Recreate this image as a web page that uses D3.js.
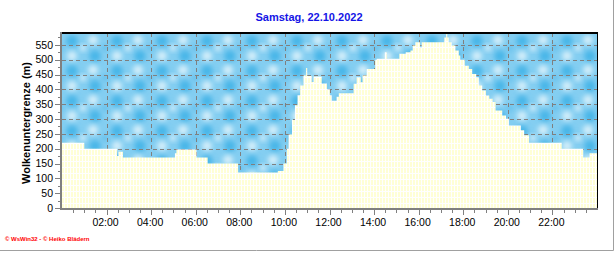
<!DOCTYPE html>
<html>
<head>
<meta charset="utf-8">
<script src="https://cdn.jsdelivr.net/npm/d3@7"></script>
<style>
  body { margin: 0; background: #ffffff; }
  svg { display: block; font-family: "Liberation Sans", Arial, sans-serif; }
</style>
</head>
<body>
<script>
// Wolkenuntergrenze, Samstag 22.10.2022 (times HH:MM, value in m, step after)
var times = ["00:00","01:00","02:28","02:32","02:44","05:04","05:08","06:02","06:32","07:54",
  "09:41","09:56","10:05","10:10","10:19","10:27","10:34","10:41","10:50","10:57",
  "11:00","11:12","11:17","11:39","11:53","12:01","12:06","12:19","12:25","13:05",
  "13:13","13:24","13:29","13:40","14:03","14:07","14:29","14:34","15:08","15:25",
  "15:38","15:44","15:51","16:04","16:08","17:09","17:14","17:17","17:21","17:29",
  "17:39","17:48","17:52","18:04","18:15","18:24","18:35","18:42","18:51","19:01",
  "19:10","19:19","19:27","19:45","19:55","20:03","20:35","20:44","20:57","22:25",
  "23:23","23:40"]
var cloudBase = [220,200,175,190,170,185,197,170,150,120,
  125,150,200,248,297,346,380,413,447,472,
  445,425,443,420,400,380,362,375,387,419,
  441,424,447,469,500,503,525,503,520,525,
  531,548,559,542,559,575,595,575,559,548,
  531,514,500,480,469,452,441,413,396,379,
  368,357,329,312,301,278,262,245,220,200,
  170,185]
var yTicks = [0,50,100,150,200,250,300,350,400,450,500,550]
var xTickLabels = ["02:00","04:00","06:00","08:00","10:00","12:00","14:00","16:00","18:00","20:00","22:00"]

var title = "Samstag, 22.10.2022"
var yTitle = "Wolkenuntergrenze (m)"
var credit = "\u00a9 WsWin32 - \u00a9 Heiko Bl\u00e4dern"

var toHours = function(s)
{
  var p = s.split(":")
  return +p[0] + (+p[1]) / 60
}

var W = 616, H = 253
var pLeft = 62, pRight = 597, pTop = 33, pBottom = 208

var svg = d3.select("body").append("svg")
  .attr("width", W)
  .attr("height", H)

var x = d3.scaleLinear().domain([0, 24]).range([pLeft, pRight])
var y = d3.scaleLinear().domain([0, 590]).range([pBottom, pTop])

var defs = svg.append("defs")

// cloud texture
var blur = defs.append("filter").attr("id", "soft")
  .attr("x", "-50%").attr("y", "-50%").attr("width", "200%").attr("height", "200%")
blur.append("feGaussianBlur").attr("stdDeviation", 2.6)

var sky = defs.append("pattern")
  .attr("id", "sky")
  .attr("patternUnits", "userSpaceOnUse")
  .attr("x", pLeft).attr("y", pTop)
  .attr("width", 45).attr("height", 30)
sky.append("rect").attr("width", 45).attr("height", 30).attr("fill", "#84cef1")
// blob centres, with copies across the tile edges so it wraps
var blobs = []
var baseBlobs = [
  [10, 8, 6, "#4ab6e8"], [33, 23, 6, "#4ab6e8"],
  [31, 7, 5, "#d3eefa"], [10, 23, 5, "#d3eefa"],
  [21, 15, 3, "#e0f3fc"], [43, 15, 3, "#5fbeeb"]
]
baseBlobs.forEach(function(b)
{
  [-45, 0, 45].forEach(function(dx)
  {
    [-30, 0, 30].forEach(function(dy)
    {
      blobs.push([b[0] + dx, b[1] + dy, b[2], b[3]])
    })
  })
})
sky.selectAll("circle")
  .data(blobs)
  .join("circle")
  .attr("cx", d => d[0]).attr("cy", d => d[1]).attr("r", d => d[2])
  .attr("fill", d => d[3])
  .attr("filter", "url(#soft)")

// pale yellow ground
var ground = defs.append("pattern")
  .attr("id", "ground")
  .attr("patternUnits", "userSpaceOnUse")
  .attr("x", pLeft).attr("y", 0)
  .attr("width", 3).attr("height", 6)
ground.append("rect").attr("width", 3).attr("height", 6).attr("fill", "#ffffff")
ground.append("rect").attr("width", 2).attr("height", 5).attr("fill", "#ffffd6")

// sky background
svg.append("rect")
  .attr("x", pLeft).attr("y", pTop)
  .attr("width", pRight - pLeft).attr("height", pBottom - pTop)
  .attr("fill", "url(#sky)")

// grid
var grid = svg.append("g")
  .attr("stroke", "#7f7f7f")
  .attr("stroke-dasharray", "4,3")
  .attr("stroke-width", 1)
grid.selectAll("line.h")
  .data(yTicks.slice(1))
  .join("line")
  .attr("class", "h")
  .attr("x1", pLeft).attr("x2", pRight)
  .attr("y1", d => Math.round(y(d)) + 0.5).attr("y2", d => Math.round(y(d)) + 0.5)
grid.selectAll("line.v")
  .data(xTickLabels)
  .join("line")
  .attr("class", "v")
  .attr("x1", d => Math.round(x(toHours(d))) + 0.5).attr("x2", d => Math.round(x(toHours(d))) + 0.5)
  .attr("y1", pTop).attr("y2", pBottom)

// cloud base area
var data = times.map(function(t, i) { return { t: toHours(t), v: cloudBase[i] } })
data.push({ t: 24, v: cloudBase[cloudBase.length - 1] })

var area = d3.area()
  .x(d => x(d.t))
  .y0(y(0))
  .y1(d => y(d.v))
  .curve(d3.curveStepAfter)

svg.append("path")
  .datum(data)
  .attr("d", area)
  .attr("fill", "url(#ground)")

// frame
svg.append("line")
  .attr("x1", pLeft).attr("x2", pRight + 1)
  .attr("y1", pTop).attr("y2", pTop)
  .attr("stroke", "#000").attr("stroke-width", 2)
svg.append("line")
  .attr("x1", pRight + 0.5).attr("x2", pRight + 0.5)
  .attr("y1", pTop).attr("y2", pBottom + 1)
  .attr("stroke", "#000").attr("stroke-width", 1)

// axes
var axisG = svg.append("g").attr("stroke", "#808080")
axisG.append("line")
  .attr("x1", pLeft - 1).attr("x2", pLeft - 1)
  .attr("y1", pTop - 1).attr("y2", pBottom + 2)
  .attr("stroke-width", 2)
axisG.append("line")
  .attr("x1", pLeft - 2).attr("x2", pRight + 1)
  .attr("y1", pBottom + 1).attr("y2", pBottom + 1)
  .attr("stroke-width", 2)

// y ticks
var yMinor = d3.range(0, 590, 25)
axisG.selectAll("line.ym")
  .data(yMinor)
  .join("line")
  .attr("class", "ym")
  .attr("x1", d => d % 50 == 0 ? pLeft - 7 : pLeft - 4).attr("x2", pLeft - 2)
  .attr("y1", d => Math.round(y(d)) + 0.5).attr("y2", d => Math.round(y(d)) + 0.5)
  .attr("stroke-width", 1)

// x ticks every 30 min
var xMinor = d3.range(0.5, 24, 0.5)
axisG.selectAll("line.xm")
  .data(xMinor)
  .join("line")
  .attr("class", "xm")
  .attr("x1", d => Math.round(x(d)) + 0.5).attr("x2", d => Math.round(x(d)) + 0.5)
  .attr("y1", pBottom + 2).attr("y2", d => d % 2 == 0 ? pBottom + 7 : pBottom + 5)
  .attr("stroke-width", 1)

svg.append("g")
  .selectAll("text")
  .data(yTicks)
  .join("text")
  .attr("x", 53)
  .attr("y", d => y(d))
  .attr("dy", "0.36em")
  .attr("text-anchor", "end")
  .attr("font-size", "10.5px")
  .attr("fill", "#000")
  .text(d => d)

svg.append("g")
  .selectAll("text")
  .data(xTickLabels)
  .join("text")
  .attr("x", d => x(toHours(d)) - 1)
  .attr("y", 226)
  .attr("text-anchor", "middle")
  .attr("font-size", "10.5px")
  .attr("fill", "#000")
  .text(d => d)

// titles
svg.append("text")
  .attr("x", 309).attr("y", 21)
  .attr("text-anchor", "middle")
  .attr("font-size", "11px")
  .attr("font-weight", "bold")
  .attr("fill", "#1414e6")
  .text(title)

svg.append("text")
  .attr("transform", "translate(30,123) rotate(-90)")
  .attr("text-anchor", "middle")
  .attr("font-size", "11px")
  .attr("font-weight", "bold")
  .attr("fill", "#000")
  .text(yTitle)

svg.append("text")
  .attr("x", 5).attr("y", 241)
  .attr("font-size", "6px")
  .attr("font-weight", "bold")
  .attr("fill", "#ff0000")
  .text(credit)

// outer shadow border
svg.append("path")
  .attr("d", "M613.5,0V250.5H0")
  .attr("fill", "none")
  .attr("stroke", "#a0a0a0")
</script>
</body>
</html>
